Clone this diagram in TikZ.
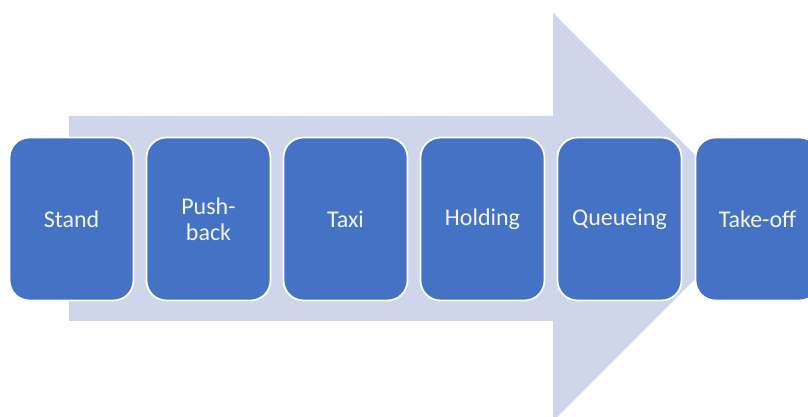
\documentclass[tikz,border=0pt]{standalone}
\usepackage{fontspec}
\setmainfont{Carlito}
\definecolor{arrowfill}{HTML}{CFD5EA}
\definecolor{boxfill}{HTML}{4472C4}
\definecolor{txt}{HTML}{F4F4F4}
\begin{document}
\begin{tikzpicture}[x=1pt,y=1pt,
  stepbox/.style={draw=white, line width=1.8pt, fill=boxfill, rounded corners=20pt,
    minimum width=124pt, minimum height=163pt, inner sep=0pt, outer sep=0pt,
    text=txt, font=\fontsize{24}{26}\selectfont, align=center}]
\useasboundingbox (0,0) rectangle (808,417);
\clip (0,0) rectangle (808,417);
\fill[arrowfill] (69,417-116) -- (553,417-116) -- (553,417-13) -- (757,417-217)
  -- (553,417-421) -- (553,417-321) -- (69,417-321) -- cycle;
\node[stepbox] (s1) at (71.5,417-219) {Stand};
\node[stepbox] (s2) at (208.5,417-219) {Push-\\back};
\node[stepbox] (s3) at (345.5,417-219) {Taxi};
\node[stepbox] (s4) at (482.5,417-219) {Holding};
\node[stepbox] (s5) at (619.5,417-219) {Queueing};
\node[stepbox] (s6) at (757.5,417-219) {Take-off};
\end{tikzpicture}
\end{document}
